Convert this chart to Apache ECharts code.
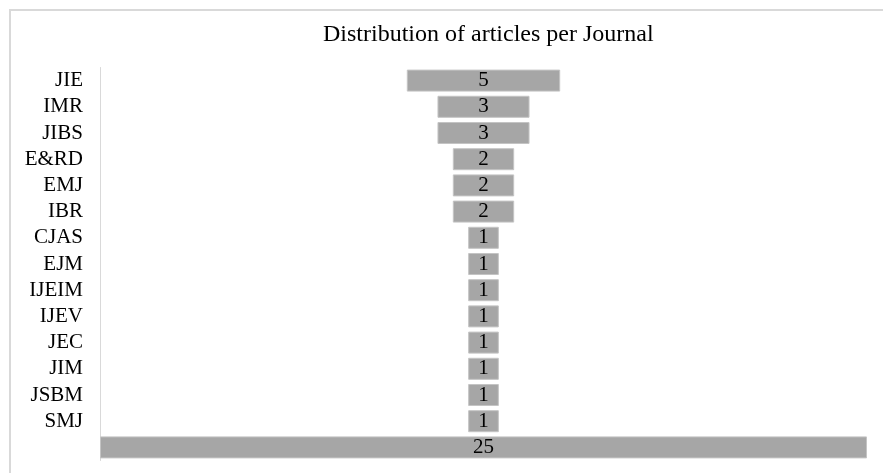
<!DOCTYPE html>
<html>
<head>
<meta charset="utf-8">
<script src="https://cdn.jsdelivr.net/npm/echarts@6/dist/echarts.min.js"></script>
<style>
  html, body { margin: 0; padding: 0; background: #fff; }
  #chart { width: 883px; height: 473px; }
</style>
</head>
<body>
<div id="chart"></div>
<script>
// Journals (top to bottom); the last, unlabelled row is the total
const journals = ['JIE', 'IMR', 'JIBS', 'E&RD', 'EMJ', 'IBR', 'CJAS', 'EJM', 'IJEIM', 'IJEV', 'JEC', 'JIM', 'JSBM', 'SMJ', ''];
const articleCounts = [5, 3, 3, 2, 2, 2, 1, 1, 1, 1, 1, 1, 1, 1, 25];
const axisMax = 25;

// Transparent spacer so each bar sits centred on the axis
const spacer = articleCounts.map(v => (axisMax - v) / 2);

const serif = '"Liberation Serif", "Times New Roman", serif';

const chart = echarts.init(document.getElementById('chart'));
chart.setOption({
  animation: false,
  backgroundColor: '#fff',
  title: {
    text: 'Distribution of articles per Journal',
    left: 318,
    top: 18,
    textStyle: { fontFamily: serif, fontSize: 24, fontWeight: 'normal', color: '#000' }
  },
  graphic: [{
    type: 'rect',
    shape: { x: 10, y: 10, width: 1000, height: 1000 },
    style: { fill: 'none', stroke: '#d9d9d9', lineWidth: 2 },
    silent: true
  }],
  grid: { left: 100, right: 16, top: 67.5, bottom: 12.5 },
  xAxis: {
    type: 'value', min: 0, max: axisMax,
    show: false
  },
  yAxis: {
    type: 'category',
    data: journals,
    inverse: true,
    axisLine: { show: true, lineStyle: { color: '#d9d9d9', width: 1 } },
    axisTick: { show: false },
    axisLabel: { interval: 0, fontFamily: serif, fontSize: 21, color: '#000', margin: 17 }
  },
  series: [
    {
      type: 'bar', stack: 'f', data: spacer,
      itemStyle: { color: 'transparent' },
      barCategoryGap: '16%',
      silent: true
    },
    {
      type: 'bar', stack: 'f', data: articleCounts,
      barCategoryGap: '16%',
      itemStyle: { color: '#a6a6a6', borderColor: '#c4c4c4', borderWidth: 1 },
      label: {
        show: true, position: 'inside',
        fontFamily: serif, fontSize: 21, color: '#000'
      }
    }
  ]
});
</script>
</body>
</html>
